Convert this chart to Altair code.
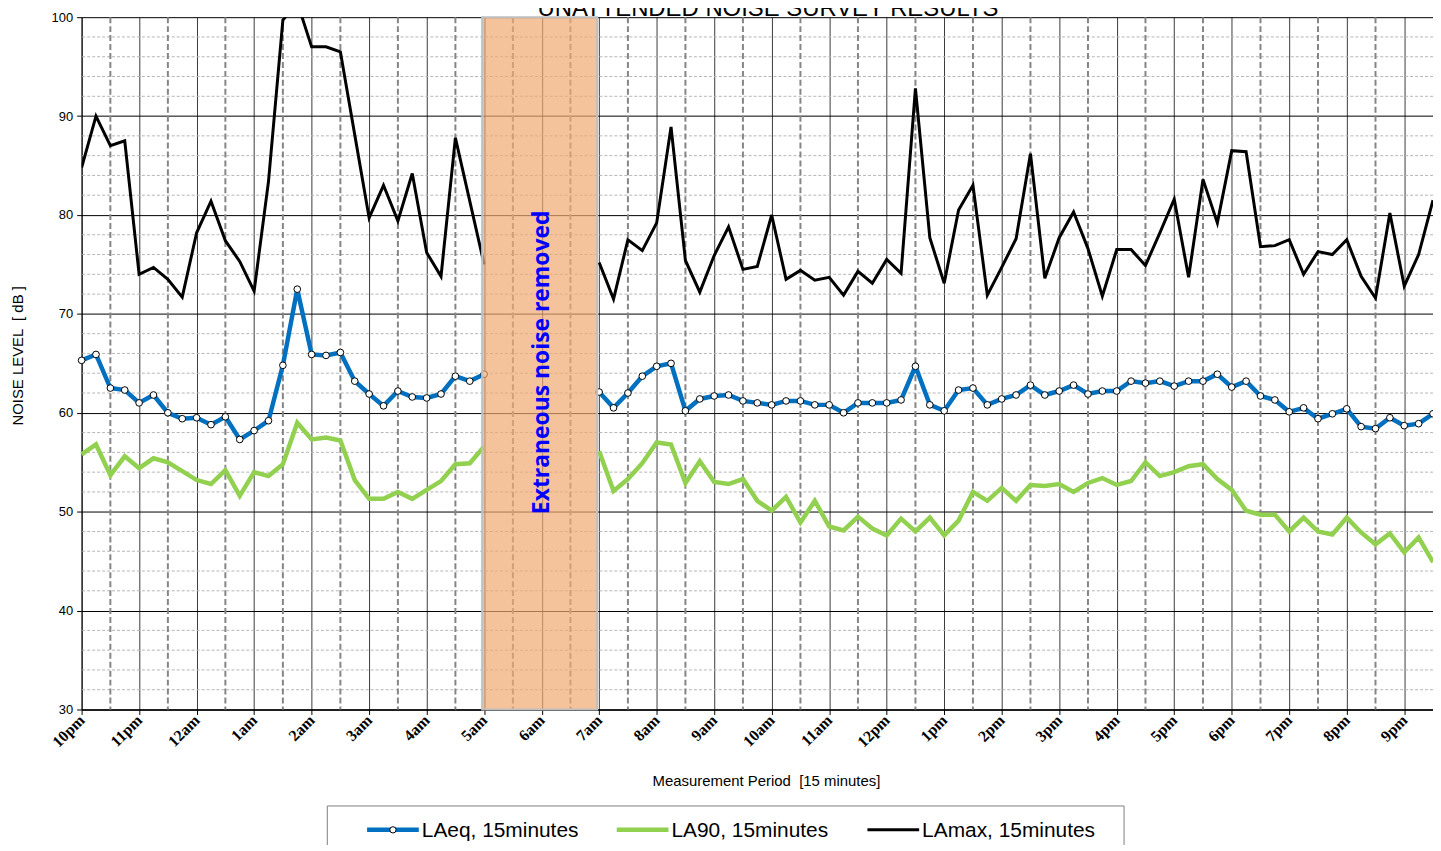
import altair as alt
import pandas as pd

# ---------------- data ----------------
hour_labels = ["10pm", "11pm", "12am", "1am", "2am", "3am", "4am", "5am", "6am", "7am",
               "8am", "9am", "10am", "11am", "12pm", "1pm", "2pm", "3pm", "4pm", "5pm",
               "6pm", "7pm", "8pm", "9pm"]

laeq = [65.3, 65.9, 62.5, 62.3, 61.0, 61.8, 60.0, 59.4, 59.5, 58.8, 59.6, 57.3, 58.2, 59.2,
        64.8, 72.5, 65.9, 65.8, 66.1, 63.2, 61.9, 60.7, 62.2, 61.6, 61.5, 61.9, 63.7, 63.2, 63.9,
        None, None, None, None, None, None, None,
        62.1, 60.5, 62.0, 63.7, 64.7, 65.0, 60.2, 61.4, 61.7, 61.8, 61.2, 61.0, 60.8, 61.2, 61.2, 60.8,
        60.8, 60.0, 61.0, 61.0, 61.0, 61.3, 64.7, 60.8, 60.2, 62.3, 62.5, 60.8, 61.4, 61.8, 62.8, 61.8,
        62.2, 62.8, 61.9, 62.2, 62.2, 63.2, 63.0, 63.2, 62.7, 63.2, 63.2, 63.9, 62.6, 63.2, 61.7, 61.3,
        60.1, 60.5, 59.4, 59.9, 60.4, 58.6, 58.4, 59.5, 58.7, 58.9, 59.9]

la90 = [55.8, 56.8, 53.7, 55.6, 54.4, 55.4, 55.0, 54.1, 53.2, 52.8, 54.2, 51.6, 54.0, 53.6,
        54.8, 59.0, 57.3, 57.5, 57.2, 53.2, 51.3, 51.3, 52.0, 51.3, 52.2, 53.1, 54.8, 54.9, 56.6,
        None, None, None, None, None, None, None,
        56.1, 52.1, 53.3, 54.9, 57.0, 56.8, 52.9, 55.1, 53.0, 52.8, 53.3, 51.1, 50.1, 51.5, 48.9, 51.1,
        48.5, 48.1, 49.5, 48.3, 47.6, 49.3, 48.0, 49.4, 47.6, 49.1, 52.0, 51.1, 52.4, 51.1, 52.7, 52.6,
        52.8, 52.0, 52.9, 53.4, 52.7, 53.1, 55.0, 53.6, 54.0, 54.6, 54.8, 53.3, 52.2, 50.1, 49.7, 49.7,
        48.0, 49.4, 48.0, 47.7, 49.4, 47.9, 46.7, 47.8, 45.9, 47.4, 44.9]

lamax = [84.8, 90.0, 87.0, 87.5, 74.0, 74.7, 73.5, 71.7, 78.2, 81.4, 77.4, 75.3, 72.3, 83.4,
         99.7, 101.5, 97.0, 97.0, 96.5, 88.1, 79.7, 83.0, 79.4, 84.2, 76.2, 73.8, 87.8, 81.4, 75.0,
         None, None, None, None, None, None, None,
         75.2, 71.5, 77.5, 76.4, 79.2, 88.9, 75.4, 72.2, 75.9, 78.8, 74.5, 74.8, 80.0, 73.5, 74.4, 73.4,
         73.7, 71.9, 74.3, 73.1, 75.5, 74.1, 92.8, 77.7, 73.1, 80.5, 83.0, 71.9, 74.7, 77.6, 86.2, 73.6,
         77.7, 80.3, 76.6, 71.8, 76.5, 76.5, 74.9, 78.2, 81.6, 73.7, 83.6, 79.2, 86.5, 86.4, 76.8, 76.9,
         77.5, 74.0, 76.3, 76.0, 77.5, 73.8, 71.6, 80.2, 72.8, 76.0, 81.5]

series_names = ["LAeq, 15minutes", "LA90, 15minutes", "LAmax, 15minutes"]
series_colors = ["#0070C0", "#92D050", "#000000"]
chart_title = "UNATTENDED NOISE SURVEY RESULTS"
x_title = "Measurement Period \u00a0[15 minutes]"
y_title = "NOISE LEVEL \u00a0[ dB ]"
gap_note = "Extraneous noise removed"
gap_start, gap_end = 7, 9      # hours after 10pm: 5am .. 7am
step = 0.25                    # 15 minutes
x_end = 23.5
y_min, y_max = 30, 100

# ---------------- tables ----------------
rows = []
for name, vals in zip(series_names, [laeq, la90, lamax]):
    for i, v in enumerate(vals):
        if v is None:
            continue
        h = i * step
        rows.append({"series": name, "h": h, "v": v, "seg": 0 if h <= gap_start else 1})
df = pd.DataFrame(rows)

minor_df = pd.DataFrame({"v": [v for v in range(y_min + 2, y_max, 2) if v % 10 != 0]})
half_df = pd.DataFrame({"h": [k + 0.5 for k in range(int(x_end))]})
gap_df = pd.DataFrame({"h": [gap_start], "h2": [gap_end], "v": [y_min], "v2": [y_max]})
note_df = pd.DataFrame({"h": [(gap_start + gap_end) / 2], "v": [65.1], "t": [gap_note]})

xs = alt.Scale(domain=[0, x_end], nice=False, zero=False)
ys = alt.Scale(domain=[y_min, y_max], nice=False, zero=False)

label_expr = "[" + ",".join("'%s'" % l for l in hour_labels) + "][datum.value]"

x_axis = alt.Axis(values=list(range(len(hour_labels))), labelExpr=label_expr,
                  labelAngle=-45, labelAlign="right", labelBaseline="middle",
                  labelFont="Liberation Serif", labelFontWeight="bold", labelFontSize=16,
                  labelColor="black", labelPadding=3, labelFlush=False, labelOverlap=False,
                  tickSize=5, tickColor="black", domainColor="black", domainWidth=1.5,
                  grid=True, gridColor="#3a3a3a", gridWidth=1,
                  title=x_title, titleFont="Liberation Sans", titleFontSize=15,
                  titleFontWeight="normal", titleColor="black",
                  titleX=688, titleY=71, titleBaseline="middle", titleAlign="center")
y_axis = alt.Axis(values=list(range(y_min, y_max + 1, 10)),
                  labelFont="Liberation Sans", labelFontSize=13, labelColor="black",
                  labelPadding=4, tickSize=5, tickColor="black", domainColor="black",
                  grid=True, gridColor="black", gridWidth=1,
                  title=y_title, titleFont="Liberation Sans", titleFontSize=15,
                  titleFontWeight="normal", titleColor="black",
                  titleX=-64, titleY=340, titleBaseline="middle", titleAlign="center")


def X(field="h:Q"):
    return alt.X(field, scale=xs, axis=x_axis)


def Y(field="v:Q"):
    return alt.Y(field, scale=ys, axis=y_axis)


axes = alt.Chart(df).mark_point(opacity=0).encode(x=X(), y=Y())

minor = alt.Chart(minor_df).mark_rule(color="#b5b5b5", strokeWidth=1, strokeDash=[3, 2]).encode(
    y=Y())

halfh = alt.Chart(half_df).mark_rule(color="#858585", strokeWidth=2, strokeDash=[6, 3]).encode(
    x=X())


def series_line(name, color, width, clip=False):
    return alt.Chart(df).transform_filter(alt.datum.series == name).mark_line(
        color=color, strokeWidth=width, clip=clip, strokeJoin="miter").encode(
        x=X(), y=Y(), detail="seg:N")


l90 = series_line(series_names[1], series_colors[1], 4.5)
leq = series_line(series_names[0], series_colors[0], 4.5)
lmax = series_line(series_names[2], series_colors[2], 3, clip=True)
leq_pts = alt.Chart(df).transform_filter(alt.datum.series == series_names[0]).mark_point(
    filled=True, fill="white", stroke="black", strokeWidth=1, size=45, opacity=1).encode(
    x=X(), y=Y())

gap = alt.Chart(gap_df).mark_rect(fill="#F0A870", fillOpacity=0.7, stroke="#BFBFBF",
                                  strokeWidth=2, xOffset=-2, x2Offset=-2).encode(
    x=X(), x2="h2:Q", y=Y(), y2="v2:Q")

note = alt.Chart(note_df).mark_text(angle=270, font="Open Sans", fontWeight="bold",
                                    fontSize=23, color="#0000FF", align="center",
                                    baseline="middle").encode(
    x=X(), y=Y(), text="t:N")

title = alt.Chart(pd.DataFrame({"t": [chart_title]})).mark_text(
    font="Liberation Sans", fontSize=24, color="black", align="center",
    baseline="alphabetic").encode(x=alt.value(690), y=alt.value(-1), text="t:N")

# ---------------- legend ----------------
legend_layers = [
    alt.Chart(pd.DataFrame({"t": [""]})).mark_rect(fill="white", stroke="#7f7f7f", strokeWidth=1).encode(
        x=alt.value(247), x2=alt.value(1048), y=alt.value(793), y2=alt.value(870))
]
item_x = [287, 538, 790]
for name, color, lx in zip(series_names, series_colors, item_x):
    w = 3 if color == "#000000" else 4.5
    legend_layers.append(
        alt.Chart(pd.DataFrame({"t": [name]})).mark_rule(color=color, strokeWidth=w).encode(
            x=alt.value(lx), x2=alt.value(lx + 52), y=alt.value(817)))
    legend_layers.append(
        alt.Chart(pd.DataFrame({"t": [name]})).mark_text(
            align="left", baseline="middle", font="Liberation Sans", fontSize=21,
            color="black").encode(x=alt.value(lx + 55), y=alt.value(818), text="t:N"))
legend_layers.append(
    alt.Chart(pd.DataFrame({"t": [series_names[0]]})).mark_point(
        filled=True, fill="white", stroke="black", strokeWidth=1, size=40, opacity=1).encode(
        x=alt.value(item_x[0] + 26), y=alt.value(817)))

chart = alt.layer(
    axes, minor, halfh, l90, leq, leq_pts, lmax, gap, note, title, *legend_layers
).properties(
    width=1358.6, height=696,
    autosize=alt.AutoSizeParams(type="none"),
    padding={"left": 74, "top": 7, "right": 0, "bottom": 134},
    background="white",
).configure_view(stroke=None)

chart.save("out.html", embed_options={"renderer": "svg", "actions": False})
